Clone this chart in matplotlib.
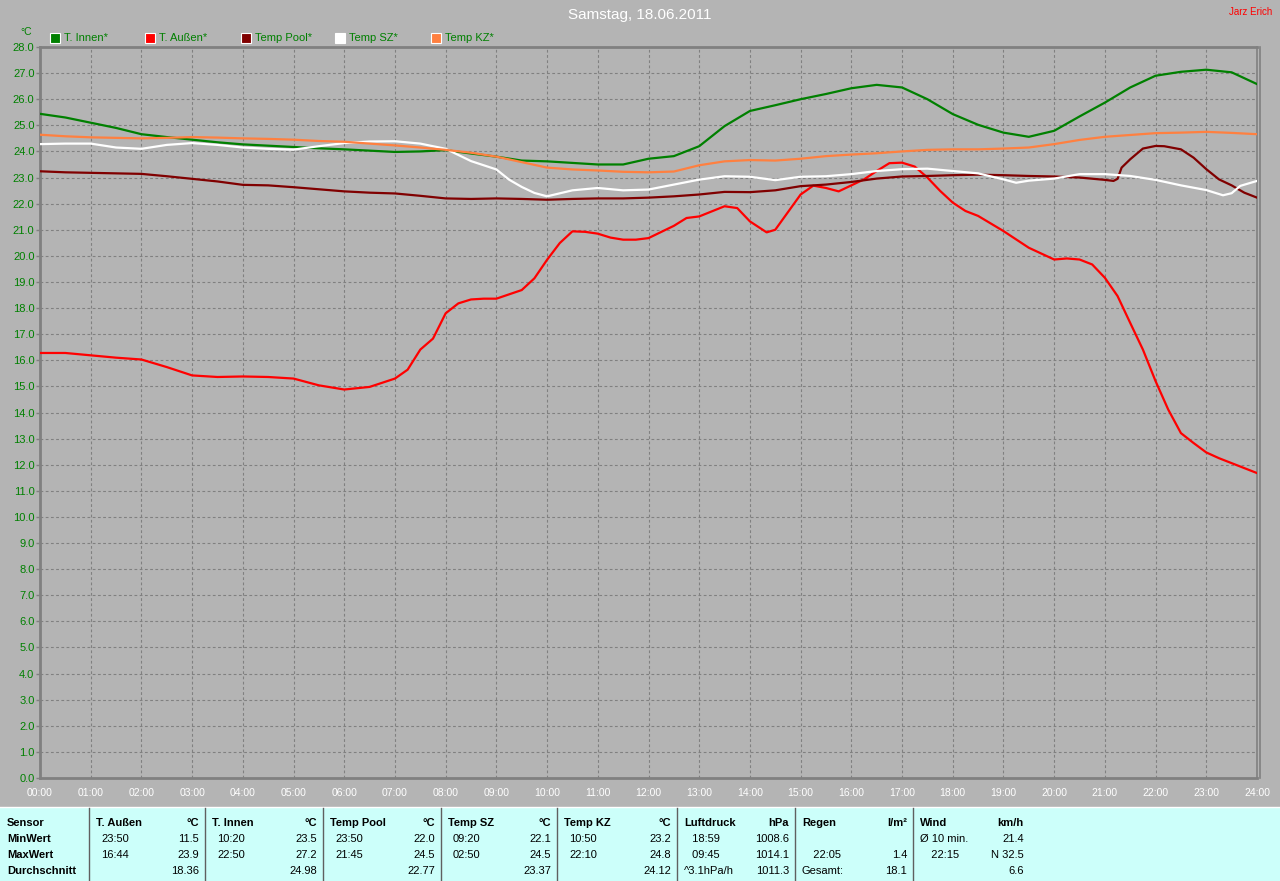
import numpy as np
import matplotlib
matplotlib.use("Agg")
import matplotlib.pyplot as plt
from matplotlib.patches import Rectangle
from matplotlib.lines import Line2D

W, H = 1280, 881
BG = "#B4B4B4"
TABLE_BG = "#CCFFFA"
GRID = "#808080"

# half-hour grid, 00:00 .. 24:00
HOURS = np.arange(0, 24.5, 0.5)

T_INNEN = [25.44, 25.30, 25.10, 24.90, 24.66, 24.55, 24.45, 24.35, 24.27, 24.22,
           24.17, 24.12, 24.08, 24.03, 23.98, 24.00, 24.05, 23.92, 23.80, 23.65,
           23.62, 23.56, 23.50, 23.50, 23.72, 23.82, 24.20, 24.97, 25.55, 25.77,
           26.00, 26.20, 26.42, 26.55, 26.45, 26.00, 25.43, 25.02, 24.72, 24.56,
           24.79, 25.34, 25.87, 26.45, 26.90, 27.05, 27.13, 27.03, 26.58]

T_AUSSEN = [16.28, 16.28, 16.19, 16.10, 16.03, 15.74, 15.42, 15.36, 15.38, 15.36,
            15.30, 15.04, 14.88, 14.98, 15.30, 16.41, 17.80, 18.33, 18.36, 18.69,
            19.85, 20.94, 20.85, 20.62, 20.68, 21.15, 21.51, 21.90, 21.32, 21.00,
            22.35, 22.60, 22.70, 23.25, 23.57, 23.00, 22.04, 21.53, 20.95, 20.31,
            19.86, 19.86, 19.16, 17.43, 15.20, 13.21, 12.47, 12.06, 11.68]
# extra readings between the half hours where the curve bends
T_AUSSEN_XH = [7.25, 7.75, 8.25, 8.75, 9.75, 10.25, 10.75, 11.25, 11.75, 12.75,
               13.75, 14.33, 15.25, 15.75, 16.25, 16.75, 17.25, 17.75, 18.25,
               20.25, 20.75, 21.25, 21.75, 22.25, 22.75, 23.25, 23.75]
T_AUSSEN_XV = [15.64, 16.83, 18.18, 18.36, 19.14, 20.49, 20.92, 20.70, 20.62, 21.45,
               21.83, 20.90, 22.69, 22.47, 22.93, 23.55, 23.42, 22.49, 21.72,
               19.90, 19.67, 18.46, 16.41, 14.11, 12.83, 12.25, 11.87]

TEMP_POOL = [23.24, 23.20, 23.18, 23.16, 23.14, 23.05, 22.95, 22.85, 22.72, 22.70,
             22.63, 22.55, 22.47, 22.42, 22.39, 22.30, 22.20, 22.18, 22.20, 22.18,
             22.15, 22.18, 22.20, 22.20, 22.23, 22.28, 22.35, 22.45, 22.44, 22.51,
             22.67, 22.73, 22.83, 22.96, 23.04, 23.06, 23.09, 23.11, 23.09, 23.06,
             23.04, 23.00, 22.91, 23.70, 24.21, 24.08, 23.32, 22.70, 22.23]
TEMP_POOL_XH = [21.17, 21.25, 21.33, 21.75, 22.17, 22.75, 23.25, 23.75]
TEMP_POOL_XV = [22.87, 22.95, 23.38, 24.11, 24.20, 23.76, 22.93, 22.42]

TEMP_SZ = [24.28, 24.30, 24.30, 24.15, 24.10, 24.25, 24.32, 24.25, 24.15, 24.10,
           24.07, 24.20, 24.32, 24.38, 24.39, 24.30, 24.10, 23.63, 23.31, 22.64,
           22.28, 22.51, 22.60, 22.51, 22.54, 22.73, 22.92, 23.05, 23.03, 22.90,
           23.03, 23.05, 23.13, 23.25, 23.32, 23.34, 23.25, 23.16, 22.93, 22.88,
           22.96, 23.13, 23.13, 23.06, 22.91, 22.70, 22.52, 22.40, 22.87]
TEMP_SZ_XH = [9.25, 9.75, 19.25, 23.33, 23.67]
TEMP_SZ_XV = [22.92, 22.41, 22.80, 22.32, 22.68]

TEMP_KZ = [24.64, 24.58, 24.54, 24.52, 24.50, 24.52, 24.55, 24.53, 24.50, 24.48,
           24.45, 24.40, 24.37, 24.30, 24.23, 24.15, 24.06, 23.95, 23.80, 23.59,
           23.38, 23.31, 23.27, 23.22, 23.20, 23.23, 23.47, 23.62, 23.67, 23.65,
           23.72, 23.82, 23.88, 23.93, 24.00, 24.06, 24.08, 24.08, 24.11, 24.15,
           24.28, 24.44, 24.56, 24.63, 24.70, 24.72, 24.75, 24.71, 24.66]


def merged(vals, extra_h=(), extra_v=()):
    h = np.concatenate([HOURS, extra_h])
    v = np.concatenate([vals, extra_v])
    order = np.argsort(h, kind="stable")
    return h[order], v[order]


SERIES = [
    ("T. Innen*", merged(T_INNEN), "#008000"),
    ("T. Außen*", merged(T_AUSSEN, T_AUSSEN_XH, T_AUSSEN_XV), "#FF0000"),
    ("Temp Pool*", merged(TEMP_POOL, TEMP_POOL_XH, TEMP_POOL_XV), "#800000"),
    ("Temp SZ*", merged(TEMP_SZ, TEMP_SZ_XH, TEMP_SZ_XV), "#FFFFFF"),
    ("Temp KZ*", merged(TEMP_KZ), "#FF8040"),
]

Y_TICKS = np.arange(0, 29, 1)
X_TICKS = np.arange(0, 25, 1)
X_LABELS = [f"{h:02d}:00" for h in X_TICKS]

# summary table below the chart: (left px, right px, rows)
TABLE_COLS = [
    (0, 89, [("Sensor", ""), ("MinWert", ""), ("MaxWert", ""), ("Durchschnitt", "")]),
    (89, 205, [("T. Außen", "°C"), ("23:50", "11.5"), ("16:44", "23.9"), ("", "18.36")]),
    (205, 323, [("T. Innen", "°C"), ("10:20", "23.5"), ("22:50", "27.2"), ("", "24.98")]),
    (323, 441, [("Temp Pool", "°C"), ("23:50", "22.0"), ("21:45", "24.5"), ("", "22.77")]),
    (441, 557, [("Temp SZ", "°C"), ("09:20", "22.1"), ("02:50", "24.5"), ("", "23.37")]),
    (557, 677, [("Temp KZ", "°C"), ("10:50", "23.2"), ("22:10", "24.8"), ("", "24.12")]),
    (677, 795, [("Luftdruck", "hPa"), (" 18:59", "1008.6"), (" 09:45", "1014.1"),
                ("^3.1hPa/h", "1011.3")]),
    (795, 913, [("Regen", "l/m²"), ("", ""), ("  22:05", "1.4"), ("Gesamt:", "18.1")]),
    (913, 1030, [("Wind", "km/h"), ("Ø 10 min.", "21.4"), ("  22:15", "N 32.5"), ("", "6.6")]),
]

plt.rcParams["font.family"] = ["Liberation Sans", "DejaVu Sans"]


def fx(x):
    return x / W


def fy(y):
    return 1 - y / H


fig = plt.figure(figsize=(W / 100, H / 100), dpi=100, facecolor=BG)
ax = fig.add_axes([fx(40), fy(778), fx(1257) - fx(40), fy(47) - fy(778)], facecolor=BG)

for name, (hh, vals), col in SERIES:
    ax.plot(hh, vals, color=col, lw=1.6, zorder=3)

ax.set_xlim(0, 24)
ax.set_ylim(0, 28)
ax.set_xticks(X_TICKS)
ax.set_xticklabels(X_LABELS)
ax.set_yticks(Y_TICKS)
ax.set_yticklabels([f"{v:.1f}" for v in Y_TICKS])
ax.tick_params(axis="x", length=0, pad=7, labelsize=7.5, labelcolor="white")
ax.tick_params(axis="y", length=3, width=1, color=GRID, pad=1, labelsize=8,
               labelcolor="#008000")
ax.grid(True, color=GRID, lw=0.8, linestyle=(0, (2.5, 2.2)))
for s in ("left", "top", "bottom"):
    ax.spines[s].set_color(GRID)
    ax.spines[s].set_linewidth(2)
ax.spines["right"].set_color(GRID)
ax.spines["right"].set_linewidth(1.2)
fig.add_artist(Line2D([fx(1260), fx(1260)], [fy(778), fy(47)], color=GRID, lw=1.2))

# title, author, unit
fig.text(0.5, fy(15), "Samstag, 18.06.2011", color="white", fontsize=11,
         ha="center", va="center")
fig.text(fx(1272), fy(12), "Jarz Erich", color="#FF0000", fontsize=7,
         ha="right", va="center")
fig.text(fx(20), fy(32), "°C", color="#008000", fontsize=7.5, ha="left", va="center")

# legend
leg_x = [50, 145, 241, 335, 431]
for (name, _, col), lx in zip(SERIES, leg_x):
    fig.add_artist(Rectangle((fx(lx), fy(43)), 10 / W, 10 / H, facecolor=col,
                             edgecolor="white", lw=0.8))
    fig.text(fx(lx + 14), fy(38), name, color="#008000", fontsize=8,
             ha="left", va="center")

# table
fig.add_artist(Rectangle((0, 0), 1, fy(807), facecolor=TABLE_BG, edgecolor="none"))
fig.add_artist(Line2D([0, 1], [fy(807), fy(807)], color="white", lw=1))
row_y = [823, 839, 855, 871]
for k, (x0, x1, rows) in enumerate(TABLE_COLS):
    if k > 0:
        fig.add_artist(Line2D([fx(x0), fx(x0)], [0, fy(808)], color="#606060", lw=1))
    for r, (left, right) in enumerate(rows):
        bold = (r == 0) or (k == 0)
        fw = "bold" if bold else "normal"
        lpad = 7 if (r == 0 or k == 0 or left.startswith("^") or left in ("Gesamt:", "Ø 10 min.")) else 12
        if left:
            fig.text(fx(x0 + lpad), fy(row_y[r]), left.strip() if lpad == 7 else left,
                     color="black", fontsize=8, fontweight=fw, ha="left", va="center")
        if right:
            fig.text(fx(x1 - 6), fy(row_y[r]), right, color="black", fontsize=8,
                     fontweight=fw, ha="right", va="center")

fig.savefig("out.png", dpi=100, facecolor=BG)
